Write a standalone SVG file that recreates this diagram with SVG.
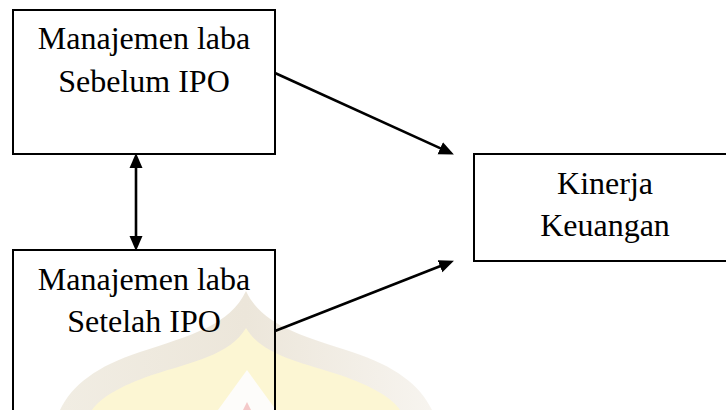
<svg xmlns="http://www.w3.org/2000/svg" width="726" height="410" viewBox="0 0 726 410">
<style>
.box{fill:none;stroke:#000;stroke-width:2}
.lbl{font-family:"Liberation Serif","Times New Roman",serif;font-size:32px;fill:#000;text-anchor:middle}
.conn{stroke:#000;stroke-width:2.6;fill:none}
</style>
<defs>
<marker id="ah" markerUnits="userSpaceOnUse" markerWidth="16" markerHeight="14" refX="4" refY="6.5" orient="auto-start-reverse" viewBox="0 0 16 13">
<path d="M0,0 L15,6.5 L0,13 z" fill="#000"/>
</marker>
<linearGradient id="band" x1="0" y1="0" x2="1" y2="0">
<stop offset="0" stop-color="#f1ede3"/>
<stop offset="0.5" stop-color="#ece6da"/>
<stop offset="1" stop-color="#f7f4ef"/>
</linearGradient>
</defs>
<g id="watermark">
<path d="M246,291 C262,325 300,335 352,352 C395,366 420,385 432,410 L60,410 C72,385 97,366 140,352 C192,335 230,325 246,291 Z" fill="url(#band)"/>
<path d="M246,328 C262,355 300,362 340,375 C372,386 392,398 400,410 L92,410 C100,398 120,386 152,375 C192,362 230,355 246,328 Z" fill="#fcf6d3"/>
<path d="M247,370 L276,410 L218,410 Z" fill="#fdfcfa"/>
<path d="M247,402 L251,410 L243,410 Z" fill="#f4c9c9"/>
</g>
<g id="node-sebelum">
<rect class="box" x="13" y="10" width="262" height="144"/>
<text class="lbl" x="144" y="49">Manajemen laba</text>
<text class="lbl" x="144" y="92">Sebelum IPO</text>
</g>
<g id="node-setelah">
<rect class="box" x="13" y="250" width="262" height="175"/>
<text class="lbl" x="144" y="290">Manajemen laba</text>
<text class="lbl" x="144" y="332">Setelah IPO</text>
</g>
<g id="node-kinerja">
<rect class="box" x="474" y="154" width="280" height="107"/>
<text class="lbl" x="605" y="194">Kinerja</text>
<text class="lbl" x="605" y="236">Keuangan</text>
</g>
<g id="connectors">
<line class="conn" x1="275" y1="73" x2="443.9" y2="149.9" marker-end="url(#ah)"/>
<line class="conn" x1="275" y1="331" x2="443.7" y2="264.7" marker-end="url(#ah)"/>
<line class="conn" x1="136" y1="164" x2="136" y2="240" marker-start="url(#ah)" marker-end="url(#ah)"/>
</g>
</svg>
